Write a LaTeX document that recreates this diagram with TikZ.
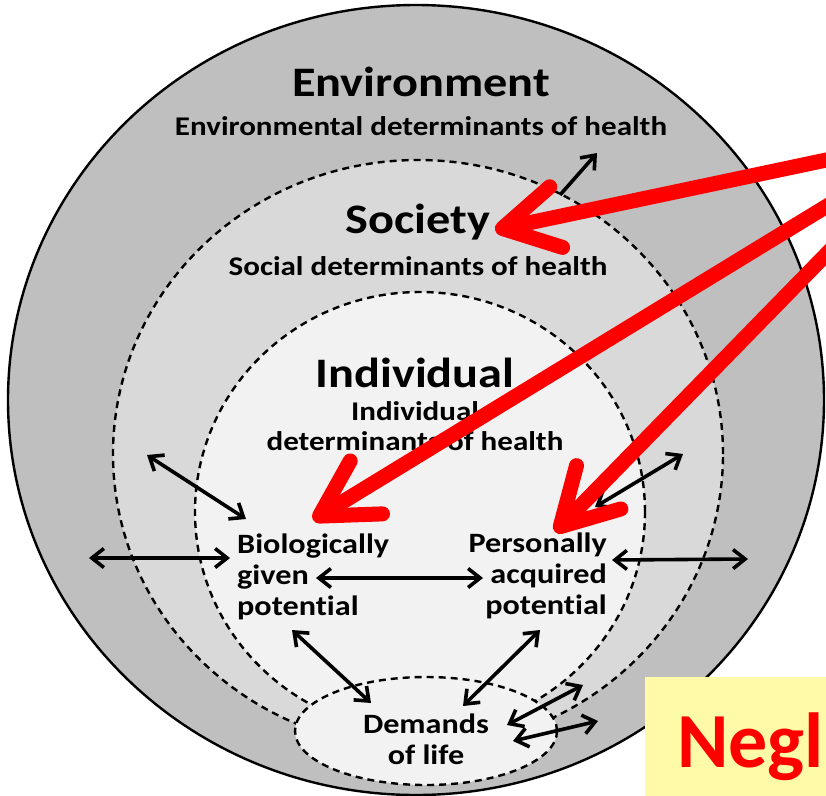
\documentclass[tikz,border=0pt]{standalone}
\usepackage{fontspec}
\setmainfont{Carlito}[FakeStretch=1.15, Ligatures=NoCommon]
\newfontfamily\notefont{Carlito}
\usepackage{tikz}
\usetikzlibrary{positioning, arrows.meta}
\definecolor{ringOuter}{HTML}{BFBFBF}
\definecolor{ringMid}{HTML}{D9D9D9}
\definecolor{ringInner}{HTML}{F2F2F2}
\definecolor{noteYellow}{HTML}{FFFAA8}
\definecolor{markRed}{HTML}{FF0000}

\begin{document}
\begin{tikzpicture}[x=1pt, y=-1pt,
      ring/.style={draw=black, line width=2.4pt},
      dashring/.style={ring, dash pattern=on 7pt off 5pt},
      title/.style={font=\bfseries\fontsize{42}{46}\selectfont, inner sep=0pt},
      subtitle/.style={font=\bfseries\fontsize{27}{30}\selectfont, inner sep=0pt, align=center},
      part/.style={font=\bfseries\fontsize{28}{31}\selectfont, inner sep=0pt},
      dbl/.style={{Straight Barb[length=12pt, width=19pt]}-{Straight Barb[length=12pt, width=19pt]}, line width=3.6pt},
      one/.style={-{Straight Barb[length=12pt, width=19pt]}, line width=3.6pt},
      redarr/.style={-{Straight Barb[length=55pt, width=62pt, round]}, markRed, line width=15pt},
      notebox/.style={fill=noteYellow, minimum width=200pt, minimum height=130pt, inner sep=0pt},
      negltext/.style={text=markRed, font=\notefont\bfseries\fontsize{78}{82}\selectfont, inner sep=0pt},
    ]
      \clip (0,0) rectangle (826,795);

      % rings
      \draw[ring, fill=ringOuter] (416,400) ellipse [x radius=408pt, y radius=395pt];
      \draw[dashring, fill=ringMid] (418,454) ellipse [x radius=305pt, y radius=294pt];
      \draw[dashring, fill=ringInner] (420,512) ellipse [x radius=225pt, y radius=220pt];
      \draw[dashring, fill=ringInner] (426,731) ellipse [x radius=131pt, y radius=54pt];

      % labels
      \node[title] (env) at (421,82) {Environment};
      \node[subtitle, below=19pt of env] (envsub) {Environmental determinants of health};
      \node[title] (soc) at (418,222) {Society};
      \node[subtitle, below=16pt of soc] (socsub) {Social determinants of health};
      \node[title] (ind) at (415,373) {Individual};
      \node[subtitle, below=13pt of ind] (indsub) {Individual\\determinants of health};
      \node[part, anchor=west, align=left] (bio) at (237,577) {Biologically\\given\\potential};
      \node[part, anchor=east, align=right] (pers) at (607,576) {Personally\\acquired\\potential};
      \node[part, align=center] (dem) at (426,739) {Demands\\of life};

      % arrow ends
      \coordinate (socIn) at (560,195);  \coordinate (socOut) at (597,153);
      \coordinate (ulOut) at (147,455);  \coordinate (ulIn) at (246,519);
      \coordinate (lOut) at (89,558);    \coordinate (lIn) at (230,558);
      \coordinate (bioR) at (316,578);   \coordinate (persL) at (483,578);
      \coordinate (rIn) at (612,560);    \coordinate (rOut) at (748,559);
      \coordinate (urIn) at (595,507);   \coordinate (urOut) at (683,454);
      \coordinate (bioD) at (292,630);   \coordinate (demL) at (371,703);
      \coordinate (persD) at (540,630);  \coordinate (demR) at (463,706);
      \coordinate (demA) at (507,725);   \coordinate (outA) at (583,685);
      \coordinate (demB) at (513,741);   \coordinate (outB) at (598,721);

      \draw[one] (socIn) -- (socOut);
      \draw[dbl] (ulOut) -- (ulIn);
      \draw[dbl] (lOut) -- (lIn);
      \draw[dbl] (bioR) -- (persL);
      \draw[dbl] (rIn) -- (rOut);
      \draw[dbl] (urIn) -- (urOut);
      \draw[dbl] (bioD) -- (demL);
      \draw[dbl] (persD) -- (demR);
      \draw[dbl] (demA) -- (outA);
      \draw[dbl] (demB) -- (outB);

      % red pointers
      \coordinate (srcA) at (850,155);  \coordinate (tipA) at (495,230);
      \coordinate (srcB) at (850,192);  \coordinate (tipB) at (313,520);
      \coordinate (srcC) at (850,230);  \coordinate (tipC) at (555,532);
      \draw[redarr] (srcA) -- (tipA);
      \draw[redarr] (srcB) -- (tipB);
      \draw[redarr] (srcC) -- (tipC);

      % note
      \node[notebox, anchor=north west] (note) at (645,677) {};
      \node[negltext, anchor=base west] (negl) at (677,767) {Negl};
\end{tikzpicture}
\end{document}
